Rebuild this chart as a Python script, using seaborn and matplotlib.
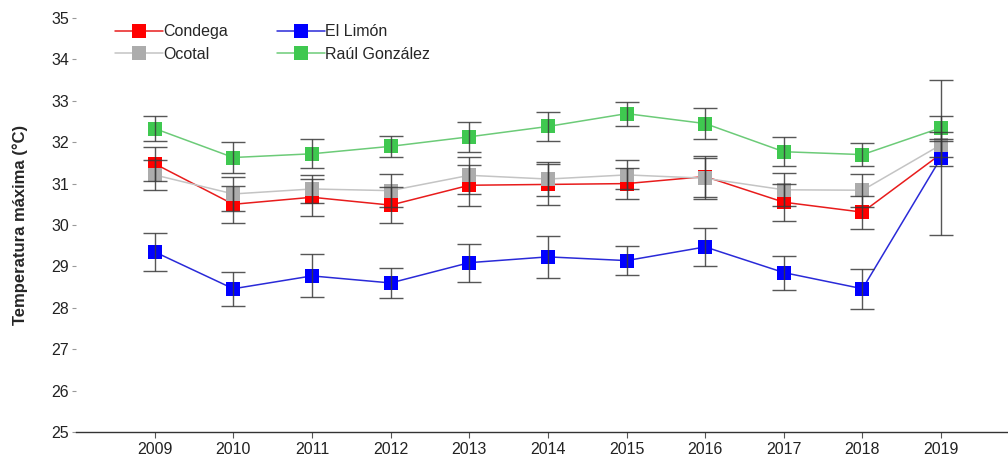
import matplotlib
matplotlib.use("Agg")
import matplotlib.pyplot as plt
import seaborn as sns
import pandas as pd
from matplotlib.lines import Line2D

# Annual mean maximum temperature per station, with error margins
years = [2009, 2010, 2011, 2012, 2013, 2014, 2015, 2016, 2017, 2018, 2019]

condega = [31.48, 30.50, 30.67, 30.48, 30.96, 30.98, 31.00, 31.17, 30.55, 30.31, 31.72]
condega_err = [0.41, 0.45, 0.45, 0.43, 0.50, 0.50, 0.38, 0.50, 0.45, 0.40, 0.30]

el_limon = [29.35, 28.46, 28.77, 28.60, 29.09, 29.23, 29.14, 29.47, 28.85, 28.46, 31.63]
el_limon_err = [0.46, 0.41, 0.52, 0.37, 0.46, 0.50, 0.36, 0.46, 0.41, 0.48, 1.87]

ocotal = [31.21, 30.75, 30.87, 30.83, 31.20, 31.11, 31.21, 31.13, 30.85, 30.84, 31.94]
ocotal_err = [0.36, 0.40, 0.33, 0.40, 0.45, 0.42, 0.35, 0.50, 0.40, 0.40, 0.30]

raul_gonzalez = [32.33, 31.63, 31.72, 31.90, 32.13, 32.38, 32.69, 32.45, 31.77, 31.70, 32.35]
raul_gonzalez_err = [0.30, 0.37, 0.35, 0.25, 0.36, 0.36, 0.29, 0.38, 0.35, 0.28, 0.28]

stations = ["Condega", "El Limón", "Ocotal", "Raúl González"]
series = {
    "Condega": (condega, condega_err),
    "El Limón": (el_limon, el_limon_err),
    "Ocotal": (ocotal, ocotal_err),
    "Raúl González": (raul_gonzalez, raul_gonzalez_err),
}
marker_colors = {"Condega": "#ff0000", "El Limón": "#0000ff",
                 "Ocotal": "#acacac", "Raúl González": "#3fc850"}
line_colors = {"Condega": "#e81c1c", "El Limón": "#2a2ad8",
               "Ocotal": "#c4c4c4", "Raúl González": "#6ccb78"}

rows = []
for name in stations:
    vals, errs = series[name]
    for y, v, e in zip(years, vals, errs):
        rows.append({"year": y, "temp": v, "err": e, "station": name})
df = pd.DataFrame(rows)

sns.set_style("white")
plt.rcParams["font.family"] = ["Liberation Sans", "DejaVu Sans"]

fig = plt.figure(figsize=(10.08, 4.58), dpi=100)
ax = fig.add_axes([0.0754, 0.0568, 0.9246, 0.9039])

for i, name in enumerate(stations):
    sub = df[df["station"] == name]
    sns.lineplot(data=sub, x="year", y="temp", ax=ax, color=line_colors[name],
                 linewidth=1.1, marker="s", markersize=10,
                 markerfacecolor=marker_colors[name],
                 markeredgecolor=marker_colors[name], markeredgewidth=0,
                 legend=False, zorder=2 + i)

for i, name in enumerate(stations):
    sub = df[df["station"] == name]
    ax.errorbar(sub["year"], sub["temp"], yerr=sub["err"], fmt="none",
                ecolor="#3a3a3a", elinewidth=1.0, capsize=8.5, capthick=1.0,
                zorder=10 + i, alpha=0.85)

ax.set_xlim(2008, 2019.85)
ax.set_ylim(25, 35)
ax.set_xticks(years)
ax.set_yticks(range(25, 36))
ax.tick_params(axis="both", labelsize=11.5, labelcolor="#222222", length=3.5,
               width=0.8, direction="out", pad=3, bottom=True, left=True)
ax.tick_params(axis="y", color="#999999", length=3, pad=2)
ax.tick_params(axis="x", color="#555555", length=4)
ax.set_xlabel("")
ax.set_ylabel("Temperatura máxima (°C)", fontsize=12, fontweight="bold",
              labelpad=17)

for side in ["top", "right", "left"]:
    ax.spines[side].set_visible(False)
ax.spines["bottom"].set_color("#333333")
ax.spines["bottom"].set_linewidth(1.0)

# Legend laid out in two columns: (Condega, Ocotal) | (El Limón, Raúl González)
order = ["Condega", "Ocotal", "El Limón", "Raúl González"]
handles = [Line2D([0], [0], color=line_colors[n], lw=1.1, marker="s",
                  markersize=10, markerfacecolor=marker_colors[n],
                  markeredgewidth=0) for n in order]
ax.legend(handles, order, loc="upper left", bbox_to_anchor=(0.035, 1.0),
          ncol=2, frameon=False, fontsize=11.5, handlelength=3.0,
          handletextpad=0.0, columnspacing=3.1, labelspacing=0.45,
          borderaxespad=0.0)

fig.savefig("out.png", dpi=100)
